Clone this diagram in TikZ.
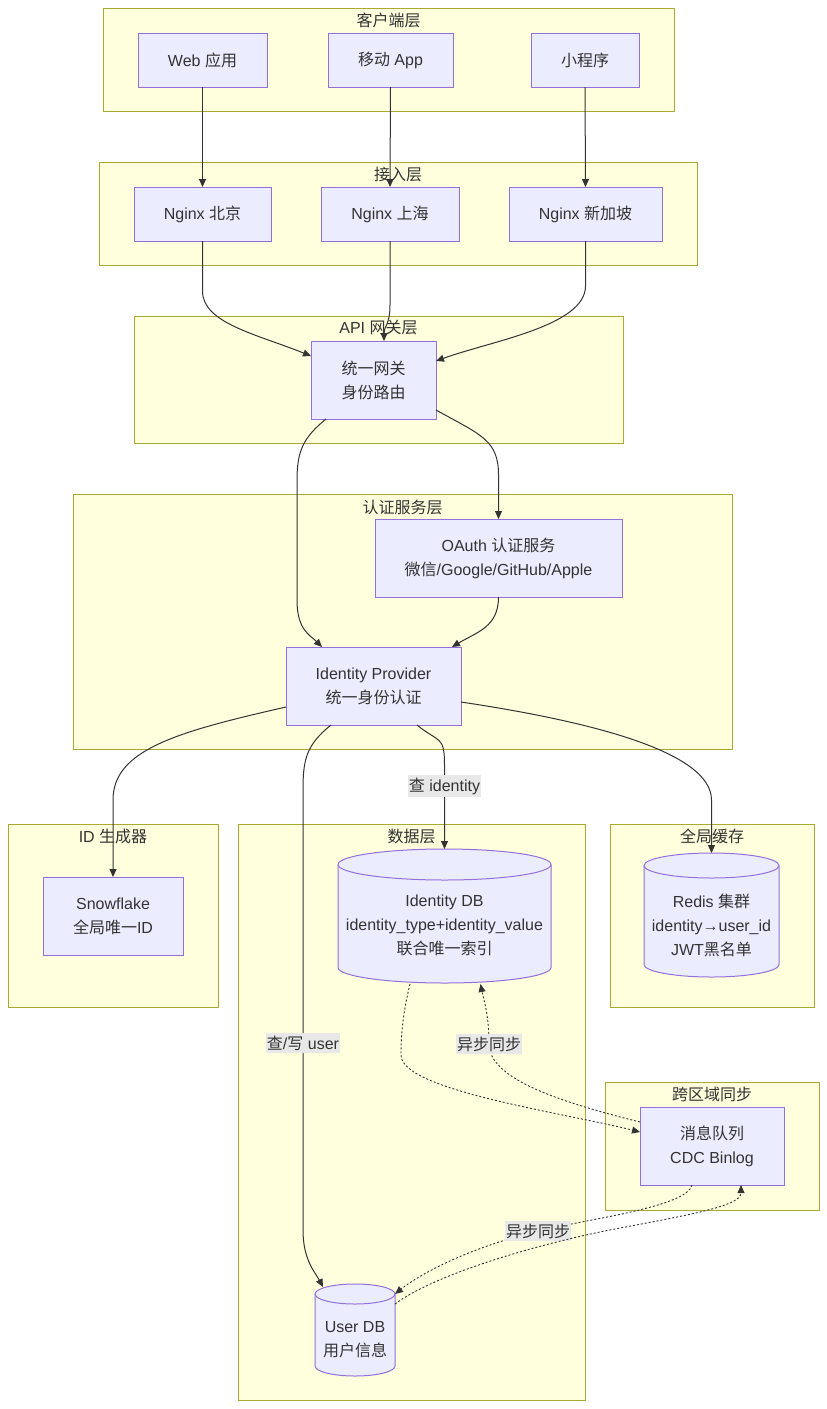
\documentclass[tikz,border=0pt]{standalone}
\usepackage{fontspec}
\setmainfont{Liberation Sans}
\newfontfamily\cjk{Noto Sans CJK SC}
\usetikzlibrary{arrows.meta}
\definecolor{clfill}{HTML}{FFFFDE}
\definecolor{cldraw}{HTML}{AAAA33}
\definecolor{ndfill}{HTML}{ECECFF}
\definecolor{nddraw}{HTML}{9370DB}
\definecolor{txt}{HTML}{333333}
\definecolor{lblbg}{HTML}{E8E8E8}
\newcommand\zh[1]{{\cjk #1}}
\newcommand\mycyl[5]{%
 \pgfmathsetmacro\cyL{#1-#4}%
 \pgfmathsetmacro\cyR{#1+#4}%
 \pgfmathsetmacro\cyT{#2+#5}%
 \pgfmathsetmacro\cyB{#3-#5}%
 \pgfmathsetmacro\cyKx{0.5523*#4}%
 \pgfmathsetmacro\cyKy{0.5523*#5}%
 \pgfmathsetmacro\cyF{#2+2*#5}%
 \draw[cyl] (\cyL,\cyT) -- (\cyL,\cyB) .. controls (\cyL,\cyB+\cyKy) and (#1-\cyKx,#3) .. (#1,#3) .. controls (#1+\cyKx,#3) and (\cyR,\cyB+\cyKy) .. (\cyR,\cyB) -- (\cyR,\cyT) .. controls (\cyR,\cyT-\cyKy) and (#1+\cyKx,#2) .. (#1,#2) .. controls (#1-\cyKx,#2) and (\cyL,\cyT-\cyKy) .. cycle;
 \draw[cylline] (\cyL,\cyT) .. controls (\cyL,\cyT+\cyKy) and (#1-\cyKx,\cyF) .. (#1,\cyF) .. controls (#1+\cyKx,\cyF) and (\cyR,\cyT+\cyKy) .. (\cyR,\cyT);
}
\begin{document}
\begin{tikzpicture}[x=1pt,y=-1pt,
  every node/.style={font=\fontsize{16}{24}\selectfont, text=txt},
  cluster/.style={draw=cldraw, fill=clfill, line width=1pt, inner sep=0pt, outer sep=0pt},
  boxnode/.style={draw=nddraw, fill=ndfill, line width=1pt, inner sep=0pt, outer sep=0pt, align=center},
  cyl/.style={draw=nddraw, fill=ndfill, line width=1pt},
  cylline/.style={draw=nddraw, line width=1pt},
  cylbox/.style={inner sep=0pt, outer sep=0pt},
  cyltext/.style={align=center, inner sep=0pt},
  edge/.style={draw=txt, line width=1pt, -{Triangle[length=8pt,width=7pt]}},
  dedge/.style={edge, line width=0.9pt, dash pattern=on 2pt off 2pt},
  lbl/.style={fill=lblbg, inner xsep=1pt, inner ysep=2.5pt, text=txt}
]
\fill[white] (0,0) rectangle (827,1409);
\useasboundingbox (0,0) rectangle (827,1409);

% clusters
\node[cluster, minimum width=571pt, minimum height=103pt] (c1) at (388.5,59.5) {};
\node (c1t) at (388.5,20) {\zh{客户端层}};
\node[cluster, minimum width=598pt, minimum height=103pt] (c2) at (398,213.5) {};
\node (c2t) at (398,174) {\zh{接入层}};
\node[cluster, minimum width=489pt, minimum height=127pt] (c3) at (378.5,379.5) {};
\node (c3t) at (378.5,328) {API \zh{网关层}};
\node[cluster, minimum width=659pt, minimum height=255pt] (c4) at (402.5,621.5) {};
\node (c4t) at (402.5,507) {\zh{认证服务层}};
\node[cluster, minimum width=210pt, minimum height=183pt] (c5) at (113,915.5) {};
\node (c5t) at (113,836) {ID \zh{生成器}};
\node[cluster, minimum width=347pt, minimum height=576pt] (c6) at (411.5,1112) {};
\node (c6t) at (411.5,836) {\zh{数据层}};
\node[cluster, minimum width=204pt, minimum height=183pt] (c7) at (712,915.5) {};
\node (c7t) at (712,836) {\zh{全局缓存}};
\node[cluster, minimum width=214pt, minimum height=128pt] (c8) at (712,1146) {};
\node (c8t) at (712,1094) {\zh{跨区域同步}};

% nodes
\node[boxnode, minimum width=129pt, minimum height=54pt] (web) at (202.5,60) {Web \zh{应用}};
\node[boxnode, minimum width=125pt, minimum height=54pt] (app) at (390.5,60) {\zh{移动} App};
\node[boxnode, minimum width=108pt, minimum height=54pt] (mini) at (585,60) {\zh{小程序}};
\node[boxnode, minimum width=137pt, minimum height=54pt] (ngbj) at (202.5,214) {Nginx \zh{北京}};
\node[boxnode, minimum width=138pt, minimum height=54pt] (ngsh) at (390,214) {Nginx \zh{上海}};
\node[boxnode, minimum width=153pt, minimum height=54pt] (ngsg) at (585.5,214) {Nginx \zh{新加坡}};
\node[boxnode, minimum width=125pt, minimum height=78pt] (gw) at (373.5,380) {\zh{统一网关}\\\zh{身份路由}};
\node[boxnode, minimum width=247pt, minimum height=78pt] (oauth) at (498.5,558) {OAuth \zh{认证服务}\\\zh{微信}/Google/GitHub/Apple};
\node[boxnode, minimum width=175pt, minimum height=78pt] (idp) at (373.5,686) {Identity Provider\\\zh{统一身份认证}};
\node[boxnode, minimum width=140pt, minimum height=78pt] (snow) at (113,916) {Snowflake\\\zh{全局唯一}ID};
\node[boxnode, minimum width=144pt, minimum height=78pt] (mq) at (712,1146) {\zh{消息队列}\\CDC Binlog};

% cylinders
\mycyl{444.5}{849}{983}{106.5}{15.5}
\node[cylbox, minimum width=213pt, minimum height=134pt] (iddb) at (444.5,916) {};
\node[cyltext] (iddbt) at (444.5,925) {Identity DB\\identity\_type+identity\_value\\\zh{联合唯一索引}};
\mycyl{711.5}{853}{977}{67.5}{12.5}
\node[cylbox, minimum width=135pt, minimum height=124pt] (redis) at (711.5,915) {};
\node[cyltext] (redist) at (711.5,925) {Redis \zh{集群}\\identity→user\_id\\JWT\zh{黑名单}};
\mycyl{355}{1284}{1376}{40}{10}
\node[cylbox, minimum width=80pt, minimum height=92pt] (userdb) at (355,1330) {};
\node[cyltext] (userdbt) at (355,1340) {User DB\\\zh{用户信息}};

% edges
\draw[edge] (web.south) -- (ngbj.north);
\draw[edge] (app.south) -- (ngsh.north);
\draw[edge] (mini.south) -- (ngsg.north);
\draw[edge] (ngbj.south) -- ++(0,50) .. controls +(0,32) and +(-55,-22) .. ([yshift=24pt]gw.west);
\draw[edge] (ngsh.south) -- ++(0,64) .. controls +(0,20) and +(0,-15) .. ([xshift=10.5pt]gw.north);
\draw[edge] (ngsg.south) -- ++(0,45) .. controls +(0,40) and +(55,-20) .. ([yshift=19pt]gw.east);
\draw[edge] ([xshift=-47.5pt]gw.south) .. controls +(-22,18) and +(0,-30) .. (297,480) -- (297,600) .. controls +(0,30) and +(-12,-12) .. ([xshift=-51.5pt]idp.north);
\draw[edge] ([yshift=-30pt]gw.east) .. controls +(45,25) and +(0,-35) .. (498.5,475) -- (oauth.north);
\draw[edge] (oauth.south) .. controls +(0,30) and +(25,-15) .. ([xshift=78.5pt]idp.north);
\draw[edge] ([yshift=-21pt]idp.west) .. controls +(-110,25) and +(0,-50) .. (113,800) -- (snow.north);
\draw[edge] ([xshift=-42.5pt]idp.south) .. controls +(-25,20) and +(0,-30) .. (303,790) -- node[lbl, pos=0.575] (l1) {\zh{查}/\zh{写} user} (303,1230) .. controls +(0,30) and +(-8,-15) .. ([xshift=-32pt,yshift=-3pt]userdb.north);
\draw[edge] ([xshift=43.5pt]idp.south) .. controls +(22,18) and +(0,-30) .. (444.5,765) -- node[lbl, pos=0.25] (l2) {\zh{查} identity} (iddb.north);
\draw[edge] ([yshift=-16pt]idp.east) .. controls +(120,18) and +(0,-50) .. (711.5,800) -- (redis.north);

% dashed sync edges
\draw[dedge] ([xshift=-34.5pt,yshift=-1pt]iddb.south) .. controls +(-6,25) and +(0,-25) .. (401,1055) .. controls +(0,35) and +(-80,-20) .. ([yshift=14pt]mq.west);
\draw[dedge] ([yshift=24pt]mq.west) .. controls +(-80,-20) and +(0,35) .. (489,1044) node[lbl] (l3) {\zh{异步同步}} .. controls +(0,-30) and +(3,15) .. ([xshift=36pt,yshift=-1pt]iddb.south);
\draw[dedge] ([xshift=-20pt]mq.south) .. controls +(-5,22) and +(50,-12) .. (538,1231) node[lbl] (l4) {\zh{异步同步}} .. controls +(-70,17) and +(25,-20) .. ([yshift=36pt]userdb.east);
\draw[dedge] ([yshift=26pt]userdb.east) .. controls +(40,-30) and +(-80,15) .. (620,1228) .. controls +(80,-15) and +(0,20) .. ([xshift=29pt]mq.south);
\end{tikzpicture}
\end{document}
